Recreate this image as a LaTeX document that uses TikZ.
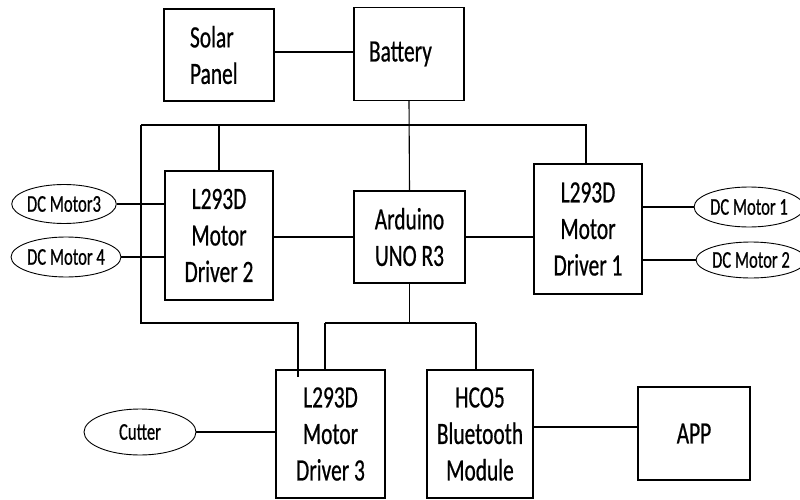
\documentclass[tikz,border=0pt]{standalone}
\usepackage{fontspec}
\setmainfont{Carlito}[FakeStretch=0.69,FakeBold=0.6]
\usetikzlibrary{shapes.geometric}
\begin{document}
\begin{tikzpicture}[x=1pt,y=-1pt,line width=1.1pt,
  blk/.style={draw,rectangle,inner sep=0pt,align=center,font=\fontsize{31}{36.5}\selectfont},
  mot/.style={draw,ellipse,inner sep=0pt,line width=0.9pt,font=\fontsize{24}{26}\selectfont}]
\useasboundingbox[fill=white] (0,0) rectangle (800,500);
% blocks
\node[blk,minimum height=92pt,text width=58pt,inner xsep=26pt,align=left] (solar) at (219,55) {Solar\\Panel};
\node[blk,minimum height=93pt,text width=80pt,inner xsep=15pt,align=left] (battery) at (409,54) {Battery};
\node[blk,minimum width=111pt,minimum height=92pt] (ard) at (409.5,237) {Arduino\\UNO R3};
\node[blk,minimum width=108pt,minimum height=130pt] (d1) at (588,229) {L293D\\Motor\\Driver 1};
\node[blk,minimum width=108pt,minimum height=129pt] (d2) at (219,235.5) {L293D\\Motor\\Driver 2};
\node[blk,minimum width=109pt,minimum height=128pt] (d3) at (330.5,434) {L293D\\Motor\\Driver 3};
\node[blk,minimum width=106pt,minimum height=128pt] (hc) at (480,434) {HCO5\\Bluetooth\\Module};
\node[blk,minimum width=112pt,minimum height=93pt] (app) at (694,433.5) {APP};
% motors
\node[mot,minimum width=104pt,minimum height=39pt] (m3) at (64,204) {DC Motor3};
\node[mot,minimum width=103pt,minimum height=40pt] (m4) at (66,257) {DC Motor 4};
\node[mot,minimum width=96pt,minimum height=40pt] (m1) at (749,207) {DC Motor 1};
\node[mot,minimum width=94pt,minimum height=36pt] (m2) at (751,260) {DC Motor 2};
\node[mot,minimum width=112pt,minimum height=46pt] (cut) at (140,432) {Cutter};
% bus coordinates
\coordinate (tl) at (141,125);
\coordinate (tr) at (586,125);
\coordinate (bl) at (141,323);
\coordinate (bm) at (298,323);
\coordinate (d3a) at (298,377);
\coordinate (ja) at (325,323);
\coordinate (jb) at (476,323);
\coordinate (hy) at (0,427);
\coordinate (sy) at (0,52);
% connectors
\draw (battery.west |- sy) -- (solar.east |- sy);
\draw (battery.south) -- (ard.north);
\draw (tl) -- (tr) -- (tr |- d1.north);
\draw (d2.north) -- (d2.north |- tl);
\draw (tl) -- (bl) -- (bm) -- (d3a);
\draw (ard.south) -- (ard.south |- ja);
\draw (ja) -- (jb);
\draw (ja) -- (ja |- d3.north);
\draw (jb) -- (jb |- hc.north);
\draw (ard.west) -- (ard.west -| d2.east);
\draw (ard.east) -- (ard.east -| d1.west);
\draw (m3.east) -- (m3.east -| d2.west);
\draw (m4.east) -- (m4.east -| d2.west);
\draw (m1.west) -- (m1.west -| d1.east);
\draw (m2.west) -- (m2.west -| d1.east);
\draw (cut.east) -- (cut.east -| d3.west);
\draw (hc.east |- hy) -- (app.west |- hy);
\end{tikzpicture}
\end{document}
